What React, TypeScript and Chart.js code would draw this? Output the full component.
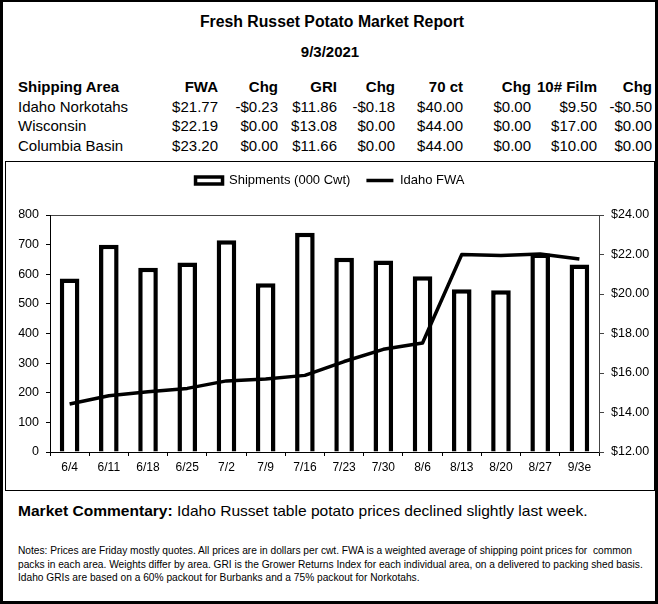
import React, { useEffect, useRef } from 'react';
import { Chart, registerables } from 'chart.js';

Chart.register(...registerables);

// ---------- data ----------
const weeks = ['6/4', '6/11', '6/18', '6/25', '7/2', '7/9', '7/16', '7/23', '7/30', '8/6', '8/13', '8/20', '8/27', '9/3e'];
const shipments = [586, 700, 622, 640, 715, 570, 740, 656, 646, 593, 549, 546, 670, 633];
const idahoFwa = [14.43, 14.85, 15.05, 15.22, 15.6, 15.7, 15.88, 16.58, 17.2, 17.52, 22.0, 21.95, 22.02, 21.77];

const shipLabel = 'Shipments (000 Cwt)';
const fwaLabel = 'Idaho FWA';

const leftMin = 0;
const leftMax = 800;
const leftStep = 100;
const rightMin = 12;
const rightMax = 24;
const rightStep = 2;

const reportTitle = 'Fresh Russet Potato Market Report';
const reportDate = '9/3/2021';
const headerFirst = 'Shipping Area';
const headerCols = ['FWA', 'Chg', 'GRI', 'Chg', '70 ct', 'Chg', '10# Film', 'Chg'];
const areas = ['Idaho Norkotahs', 'Wisconsin', 'Columbia Basin'];
const rowNorkotahs = ['$21.77', '-$0.23', '$11.86', '-$0.18', '$40.00', '$0.00', '$9.50', '-$0.50'];
const rowWisconsin = ['$22.19', '$0.00', '$13.08', '$0.00', '$44.00', '$0.00', '$17.00', '$0.00'];
const rowColumbia = ['$23.20', '$0.00', '$11.66', '$0.00', '$44.00', '$0.00', '$10.00', '$0.00'];
const tableRows = [rowNorkotahs, rowWisconsin, rowColumbia];

const commentaryLead = 'Market Commentary:';
const commentaryText = ' Idaho Russet table potato prices declined slightly last week.';
const notesLines = [
  'Notes: Prices are Friday mostly quotes. All prices are in dollars per cwt. FWA is a weighted average of shipping point prices for  common',
  'packs in each area. Weights differ by area. GRI is the Grower Returns Index for each individual area, on a delivered to packing shed basis.',
  'Idaho GRIs are based on a 60% packout for Burbanks and a 75% packout for Norkotahs.',
];

// ---------- layout constants ----------
const FONT = '"Liberation Sans", Arial, Helvetica, sans-serif';
const colRights = [218, 278, 337, 395, 463, 531, 597, 652];
const rowTops = [77, 96.5, 116, 135.5];

function ChartPanel() {
  const ref = useRef<HTMLCanvasElement | null>(null);

  useEffect(() => {
    if (!ref.current) return;
    Chart.defaults.font.family = FONT;
    Chart.defaults.color = '#000';

    const chart = new Chart(ref.current, {
      type: 'bar',
      data: {
        labels: weeks,
        datasets: [
          {
            type: 'line',
            label: fwaLabel,
            data: idahoFwa,
            yAxisID: 'yRight',
            borderColor: '#000',
            backgroundColor: '#000',
            borderWidth: 3.5,
            pointRadius: 0,
            pointHoverRadius: 0,
            tension: 0,
            borderJoinStyle: 'round',
            borderCapStyle: 'butt',
            pointStyle: 'line',
          } as any,
          {
            type: 'bar',
            label: shipLabel,
            data: shipments,
            yAxisID: 'y',
            backgroundColor: '#fff',
            borderColor: '#000',
            borderWidth: 4.5,
            barPercentage: 0.5,
            categoryPercentage: 1,
          } as any,
        ],
      },
      options: {
        responsive: true,
        maintainAspectRatio: false,
        animation: false,
        layout: { padding: 0 },
        plugins: {
          tooltip: { enabled: false },
          legend: {
            display: true,
            position: 'top',
            labels: {
              font: { size: 13, family: FONT },
              color: '#000',
              usePointStyle: true,
              pointStyleWidth: 27,
              boxHeight: 7,
              padding: 16,
              sort: (a: any, b: any) => b.datasetIndex - a.datasetIndex,
              generateLabels: (c: any) => {
                const items = (Chart.defaults.plugins.legend.labels as any).generateLabels(c);
                return items.map((it: any) => {
                  if (it.datasetIndex === 1) {
                    return { ...it, pointStyle: 'rect', lineWidth: 3.5, fillStyle: '#fff', strokeStyle: '#000' };
                  }
                  return { ...it, pointStyle: 'line', lineWidth: 3.5, strokeStyle: '#000' };
                });
              },
            },
          } as any,
        },
        scales: {
          x: {
            type: 'category',
            position: 'bottom',
            offset: true,
            grid: { display: true, offset: true, drawOnChartArea: false, drawTicks: true, tickLength: 4, color: '#000' },
            border: { display: true, color: '#000', width: 1 },
            ticks: { font: { size: 12, family: FONT }, color: '#000', padding: 4, autoSkip: false, maxRotation: 0 },
            afterFit: (s: any) => { s.height = 38; },
          },
          xTop: {
            type: 'category',
            position: 'top',
            offset: true,
            grid: { display: false, drawTicks: false },
            border: { display: true, color: '#444', width: 1 },
            ticks: { display: false },
            afterFit: (s: any) => { s.height = 18; },
          },
          y: {
            type: 'linear',
            position: 'left',
            min: leftMin,
            max: leftMax,
            grid: { display: true, drawOnChartArea: false, drawTicks: true, tickLength: 4, color: '#000' },
            border: { display: true, color: '#000', width: 1 },
            ticks: { stepSize: leftStep, font: { size: 12.5, family: FONT }, color: '#000', padding: 7 },
            afterFit: (s: any) => { s.width = 45; },
          },
          yRight: {
            type: 'linear',
            position: 'right',
            min: rightMin,
            max: rightMax,
            grid: { display: true, drawOnChartArea: false, drawTicks: true, tickLength: 5, color: '#444' },
            border: { display: true, color: '#444', width: 1 },
            ticks: {
              stepSize: rightStep,
              font: { size: 12.5, family: FONT },
              color: '#000',
              padding: 7,
              callback: (v: any) => '$' + Number(v).toFixed(2),
            },
            afterFit: (s: any) => { s.width = 56; },
          },
        } as any,
      },
    });
    return () => chart.destroy();
  }, []);

  return (
    <div style={{ position: 'absolute', left: 5, top: 158, width: 650, height: 332 }}>
      <canvas ref={ref} />
    </div>
  );
}

const abs = (extra: React.CSSProperties): React.CSSProperties => ({
  position: 'absolute',
  whiteSpace: 'pre',
  fontFamily: FONT,
  color: '#000',
  ...extra,
});

export default function App() {
  const renderRow = (first: string, cells: string[], top: number, bold: boolean, key: string) => (
    <React.Fragment key={key}>
      <div style={abs({ left: 18, top, height: 20, lineHeight: '20px', fontSize: 15, fontWeight: bold ? 700 : 400 })}>{first}</div>
      {cells.map((c, i) => (
        <div
          key={key + i}
          style={abs({
            left: colRights[i] - 120,
            width: 120,
            top,
            height: 20,
            lineHeight: '20px',
            fontSize: 15,
            textAlign: 'right',
            fontWeight: bold ? 700 : 400,
          })}
        >
          {c}
        </div>
      ))}
    </React.Fragment>
  );

  return (
    <div style={{ position: 'absolute', left: 0, top: 0, width: 658, height: 604, background: '#fff', overflow: 'hidden' }}>
      <div
        style={{
          position: 'absolute',
          left: 0,
          top: 0,
          width: 658,
          height: 604,
          boxSizing: 'border-box',
          border: '3px solid #000',
          borderTop: '2px solid #000',
        }}
      />
      <div style={abs({ left: 3, width: 658, top: 12, height: 20, lineHeight: '20px', fontSize: 15.8, fontWeight: 700, textAlign: 'center' })}>
        {reportTitle}
      </div>
      <div style={abs({ left: 1, width: 658, top: 42, height: 20, lineHeight: '20px', fontSize: 15, fontWeight: 700, textAlign: 'center' })}>
        {reportDate}
      </div>
      {renderRow(headerFirst, headerCols, rowTops[0], true, 'h')}
      {areas.map((a, i) => renderRow(a, tableRows[i], rowTops[i + 1], false, 'r' + i))}

      <div
        style={{
          position: 'absolute',
          left: 5,
          top: 161,
          width: 650,
          height: 330,
          boxSizing: 'border-box',
          border: '1px solid #000',
        }}
      />
      <ChartPanel />

      <div style={abs({ left: 18, top: 501, height: 20, lineHeight: '20px', fontSize: 15.55 })}>
        <b>{commentaryLead}</b>
        {commentaryText}
      </div>
      {notesLines.map((l, i) => (
        <div key={'n' + i} style={abs({ left: 18, top: 544 + i * 13.5, height: 13.5, lineHeight: '13.5px', fontSize: 10.2 })}>
          {l}
        </div>
      ))}
    </div>
  );
}
